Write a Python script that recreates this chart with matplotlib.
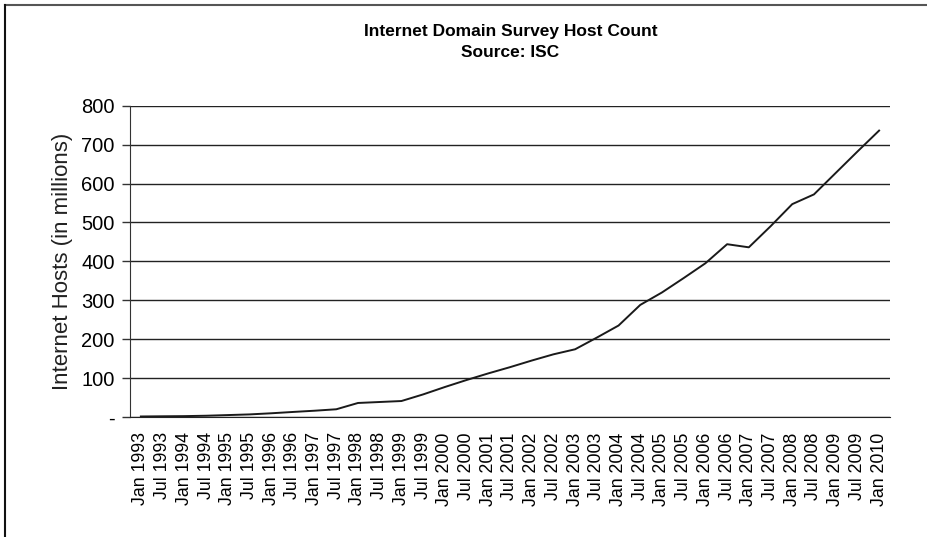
import numpy as np
import matplotlib
matplotlib.use("Agg")
import matplotlib.pyplot as plt

plt.rcParams['font.family'] = ['Liberation Sans', 'DejaVu Sans']

# survey dates (every six months)
years = list(range(1993, 2010))
dates = []
for y in years:
    dates += ['Jan %d' % y, 'Jul %d' % y]
dates.append('Jan 2010')

# host counts in millions
hosts = [1.3, 1.8, 2.2, 3.2, 4.9, 6.6, 9.5, 12.9, 16.1, 19.8,
         36, 38.5, 41, 58, 77, 95, 112, 128, 145, 161,
         174, 204, 235, 288, 320, 357, 395, 444, 436, 490,
         547, 572, 627, 682, 736]

yticks = [0, 100, 200, 300, 400, 500, 600, 700, 800]
ytick_labels = ['-', '100', '200', '300', '400', '500', '600', '700', '800']

fig = plt.figure(figsize=(9.28, 5.37), dpi=100)
ax = fig.add_axes([0.1401, 0.2235, 0.959 - 0.1401, 0.8032 - 0.2235])

x = np.arange(len(dates))
ax.plot(x, hosts, color='#1a1a1a', linewidth=1.4)

ax.set_xlim(-0.5, len(dates) - 0.5)
ax.set_ylim(0, 800)
ax.set_yticks(yticks)
ax.set_yticklabels(ytick_labels, fontsize=14.5)
ax.set_xticks(x)
ax.set_xticklabels(dates, rotation=90, fontsize=12.8)
ax.tick_params(axis='x', length=0, pad=11)
ax.tick_params(axis='y', length=6, width=1, color='#333333', pad=5)

ax.grid(axis='y', color='#222222', linewidth=1)
ax.set_axisbelow(True)
for s in ['top', 'right']:
    ax.spines[s].set_visible(False)
ax.spines['left'].set_color('#333333')
ax.spines['bottom'].set_color('#222222')

ax.set_ylabel('Internet Hosts (in millions)', fontsize=16, labelpad=6,
              color='#222222')
fig.text(0.55, 0.955, 'Internet Domain Survey Host Count\nSource: ISC',
         ha='center', va='top', fontsize=12.5, fontweight='bold', linespacing=1.5)

# outer frame, cut off at the right and bottom edges
fig.add_artist(plt.Line2D([5 / 928, 1.0], [1 - 5 / 537, 1 - 5 / 537],
                          transform=fig.transFigure, color='#555555', linewidth=1.5))
fig.add_artist(plt.Line2D([5 / 928, 5 / 928], [0, 1 - 5 / 537],
                          transform=fig.transFigure, color='#111111', linewidth=1.5))

fig.savefig('out.png', dpi=100)
